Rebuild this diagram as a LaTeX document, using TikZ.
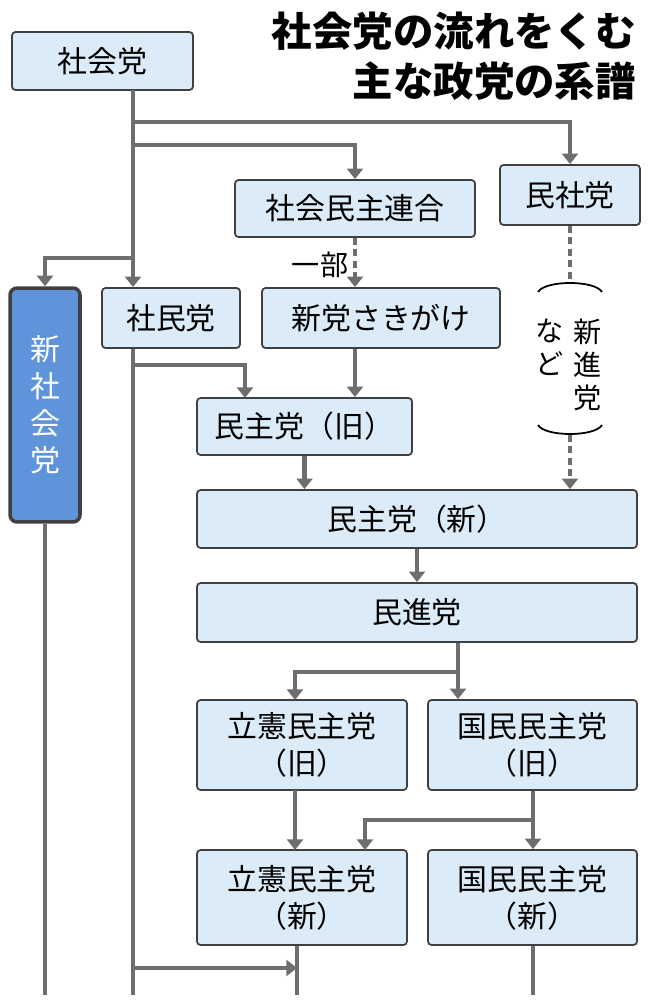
\documentclass[tikz,border=0pt]{standalone}
\usepackage{fontspec}
\setmainfont{Noto Sans CJK JP}
\usetikzlibrary{arrows.meta}
\definecolor{boxfill}{HTML}{DCEBF8}
\definecolor{darkfill}{HTML}{5F93DA}
\definecolor{linegray}{HTML}{6E6E6E}
\tikzset{
	partystyle/.style={rectangle,rounded corners=2pt,draw=black!75,line width=1pt,fill=boxfill,font=\fontsize{17}{21}\selectfont,align=center,inner sep=0pt},
	flowstyle/.style={draw=linegray,line width=2.4pt},
	arrowstyle/.style={flowstyle,-{Triangle[length=6pt,width=9pt]}},
	dashstyle/.style={arrowstyle,dash pattern=on 4pt off 2.5pt}
}
\begin{document}
\begin{tikzpicture}[x=0.02cm,y=-0.02cm]
		\useasboundingbox (0,0) rectangle (648,1000);
		% parties
		\node[partystyle,minimum width=3.62cm,minimum height=1.16cm] (shakai) at (102.5,61) {社会党};
		\node[partystyle,minimum width=4.8cm,minimum height=1.14cm] (shaminren) at (355,208.5) {社会民主連合};
		\node[partystyle,minimum width=2.8cm,minimum height=1.2cm] (minsha) at (570,195) {民社党};
		\node[partystyle,minimum width=1.4cm,minimum height=4.68cm,fill=darkfill,line width=2pt,rounded corners=4pt,text=white] (shinsha) at (45,405) {新\\社\\会\\党};
		\node[partystyle,minimum width=2.76cm,minimum height=1.2cm] (shamin) at (171,318) {社民党};
		\node[partystyle,minimum width=4.76cm,minimum height=1.2cm] (sakigake) at (381,318) {新党さきがけ};
		\node[partystyle,minimum width=4.3cm,minimum height=1.14cm] (minshuold) at (304.5,426.5) {民主党（旧）};
		\node[partystyle,minimum width=8.8cm,minimum height=1.16cm] (minshunew) at (417,519) {民主党（新）};
		\node[partystyle,minimum width=8.8cm,minimum height=1.18cm] (minshin) at (417,612.5) {民進党};
		\node[partystyle,minimum width=4.2cm,minimum height=1.8cm] (rikkenold) at (302,745) {立憲民主党\\（旧）};
		\node[partystyle,minimum width=4.18cm,minimum height=1.8cm] (kokuminold) at (532.5,745) {国民民主党\\（旧）};
		\node[partystyle,minimum width=4.2cm,minimum height=1.9cm] (rikkennew) at (302,897.5) {立憲民主党\\（新）};
		\node[partystyle,minimum width=4.18cm,minimum height=1.9cm] (kokuminnew) at (532.5,897.5) {国民民主党\\（新）};
		% title and labels
		\node[anchor=north east,align=right,font=\bfseries\fontsize{23}{28}\selectfont,inner sep=0pt] (title) at (636,12) {社会党の流れをくむ\\主な政党の系譜};
		\node[font=\fontsize{16}{19}\selectfont,inner sep=0pt] (ichibu) at (320,265) {一部};
		\node[font=\fontsize{16}{19}\selectfont,align=center,inner sep=0pt] (shinshin) at (588,365) {新\\進\\党};
		\node[font=\fontsize{16}{19}\selectfont,align=center,inner sep=0pt] (nado) at (550,347) {な\\ど};
		\coordinate (paren top) at (570,282);
		\coordinate (paren bot) at (570,435);
		\draw[line width=1pt] (538,292) .. controls (545,280) and (595,280) .. (602,292);
		\draw[line width=1pt] (538,425) .. controls (545,437) and (595,437) .. (602,425);
		% trunk
		\coordinate (trunk) at (133,90);
		\coordinate (b1) at (133,122);
		\coordinate (b2) at (133,145);
		\coordinate (b3) at (133,258);
		\coordinate (b4) at (133,365);
		\coordinate (b5) at (133,968);
		\draw[flowstyle] (trunk)--(b3);
		\draw[arrowstyle] (b1)-|(minsha.north);
		\draw[arrowstyle] (b2)-|(shaminren.north);
		\draw[arrowstyle] (b3)-|(shinsha.north);
		\draw[arrowstyle] (b3)--(shamin.north -| b3);
		\draw[flowstyle] (shamin.south -| b3)--(133,995);
		\draw[flowstyle] (shinsha.south)--(45,995);
		\draw[arrowstyle] (b4)-|(245,398);
		\draw[dashstyle] (shaminren.south)--(sakigake.north -| shaminren.south);
		\draw[flowstyle,dash pattern=on 4pt off 2.5pt] (minsha.south)--(paren top);
		\draw[dashstyle] (paren bot)--(minshunew.north -| paren bot);
		\draw[arrowstyle] (sakigake.south -| shaminren.south)--(minshuold.north -| shaminren.south);
		\draw[arrowstyle] (minshuold.south)--(minshunew.north -| minshuold.south);
		\draw[arrowstyle] (minshunew.south)--(minshin.north);
		\coordinate (split1) at (458,672);
		\draw[flowstyle] (minshin.south -| split1)--(split1);
		\draw[arrowstyle] (split1)-|(295,700);
		\draw[arrowstyle] (split1)--(kokuminold.north -| split1);
		\draw[arrowstyle] (295,790)--(295,850);
		\coordinate (split2) at (533,820);
		\draw[flowstyle] (kokuminold.south -| split2)--(split2);
		\draw[arrowstyle] (split2)-|(365,850);
		\draw[arrowstyle] (split2)--(kokuminnew.north -| split2);
		\draw[flowstyle] (rikkennew.south -| 297,0)--(297,995);
		\draw[flowstyle] (kokuminnew.south -| split2)--(533,995);
		\draw[arrowstyle] (b5)--(297,968);
\end{tikzpicture}
\end{document}
